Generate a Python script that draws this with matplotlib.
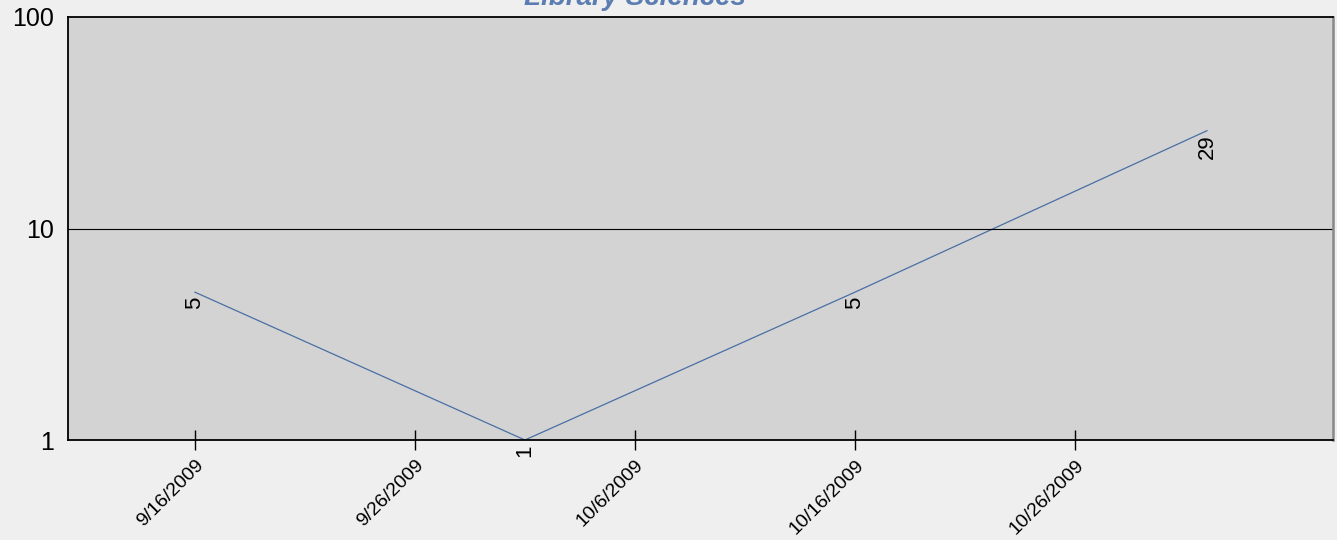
"""
Library Sciences count over time (log scale)
"""
from matplotlib import pyplot as plt
import matplotlib.dates as mdates
import numpy as np
import datetime as dt

dates = ['2009-09-16', '2009-10-01', '2009-10-16', '2009-11-01']
counts = [5, 1, 5, 29]
tick_dates = ['2009-09-16', '2009-09-26', '2009-10-06', '2009-10-16', '2009-10-26']
title = 'Library Sciences'

plt.rcParams['font.family'] = ['Liberation Sans', 'DejaVu Sans']

x = [mdates.date2num(dt.datetime.strptime(d, '%Y-%m-%d')) for d in dates]
ticks = [mdates.date2num(dt.datetime.strptime(d, '%Y-%m-%d')) for d in tick_dates]
tick_labels = [dt.datetime.strptime(d, '%Y-%m-%d').strftime('%-m/%-d/%Y') for d in tick_dates]

fig = plt.figure(figsize=(13.37, 5.4), dpi=100, facecolor='#efefef')
ax = fig.add_axes([68 / 1337, 1 - 440 / 540, (1333 - 68) / 1337, (440 - 17) / 540])
ax.set_facecolor('#d3d3d3')

ax.plot(x, counts, color='#4a6fa5', lw=0.9)
for xi, c in zip(x, counts):
    ax.annotate(str(c), (xi, c), xytext=(0, -3), textcoords='offset points',
                rotation=90, ha='center', va='top', fontsize=16, color='black')

ax.set_yscale('log')
ax.set_ylim(1, 100)
ax.set_xlim(ticks[0] - 5.77, ticks[-1] + 11.73)
ax.axhline(10, color='black', lw=0.8)

ax.set_yticks([1, 10, 100])
ax.set_yticklabels(['1', '10', '100'], fontsize=18)
ax.yaxis.set_minor_locator(plt.NullLocator())
ax.tick_params(axis='y', length=0, pad=10)

ax.set_xticks(ticks)
ax.set_xticklabels(tick_labels, fontsize=14, rotation=45, ha='right', va='top',
                   rotation_mode='anchor')
ax.tick_params(axis='x', direction='inout', length=14, width=1, pad=5)

for side in ['top', 'left', 'bottom']:
    ax.spines[side].set_color('black')
    ax.spines[side].set_linewidth(1.3)
ax.spines['right'].set_color('#888888')
ax.spines['right'].set_linewidth(1.8)

fig.text(635 / 1337, 1 - 5 / 540, title, ha='center', va='baseline', fontsize=20,
         fontweight='bold', fontstyle='italic', color='#5b7db1')

plt.savefig('out.png', facecolor=fig.get_facecolor())
